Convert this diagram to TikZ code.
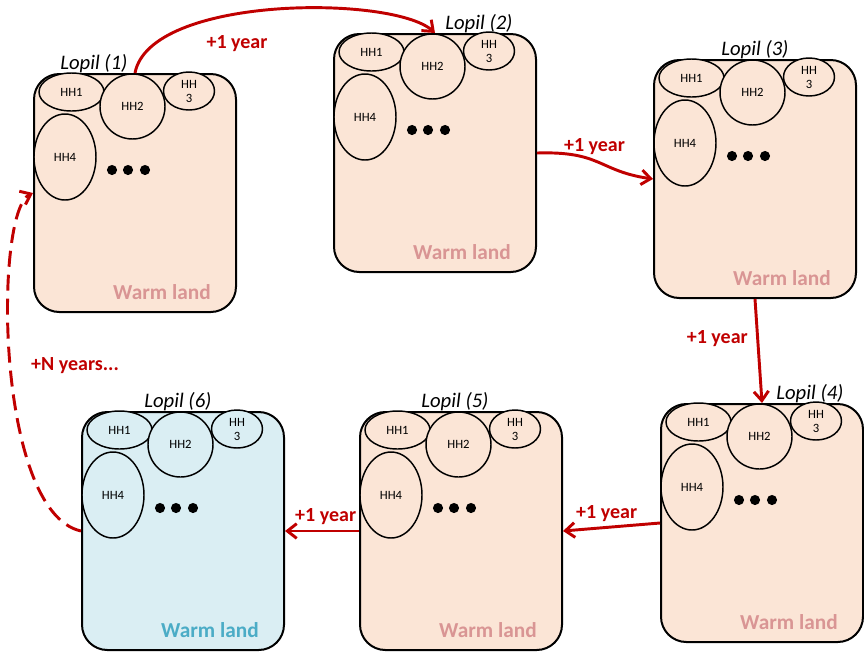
\documentclass[tikz,border=0pt]{standalone}
\usepackage{fontspec}
\setmainfont{Carlito}
\usepackage{xcolor}
\definecolor{cLand}{HTML}{FBE5D6}
\definecolor{cLandText}{HTML}{D99594}
\definecolor{cCold}{HTML}{DAEEF3}
\definecolor{cColdText}{HTML}{4BACC6}
\definecolor{cArrow}{HTML}{C00000}
\usepackage{tikz}
\usetikzlibrary{positioning,arrows.meta,shapes.geometric,calc}
\tikzset{
  lopil-box/.style={draw=black,line width=1.5pt,rounded corners=19pt,
    anchor=north west,inner sep=0pt,minimum width=151.5pt,minimum height=178.5pt},
  lopil-name/.style={anchor=base,inner sep=0pt,font=\fontsize{15.5}{17}\selectfont\itshape},
  land-text/.style={anchor=base,inner sep=0pt,font=\fontsize{16}{18}\selectfont\bfseries},
  % households: ellipses of different sizes inside each lopil
  hh/.style={draw=black,line width=1.1pt,ellipse,inner sep=0pt,align=center,
    font=\fontsize{9.5}{10.5}\selectfont},
  hh-one/.style={hh,minimum width=48.75pt,minimum height=28.5pt},
  hh-two/.style={hh,minimum width=48.75pt,minimum height=48.75pt},
  hh-three/.style={hh,minimum width=38.25pt,minimum height=28.5pt},
  hh-four/.style={hh,minimum width=46.5pt,minimum height=64.5pt},
  year-label/.style={text=cArrow,font=\fontsize{15}{17}\selectfont\bfseries},
  arrow/.style={-{Straight Barb[length=7pt,width=11pt]},line width=2.2pt,draw=cArrow},
  arrow-dashed/.style={arrow,dash pattern=on 12pt off 6pt},
}
\begin{document}
\begin{tikzpicture}[x=0.75pt,y=-0.75pt]
  \useasboundingbox (0,0) rectangle (864,651);
  \foreach \i/\bx/\by/\lx/\fc/\tc in {1/33/73/61/cLand/cLandText,
      2/333/33/146/cLand/cLandText, 3/653/59/102/cLand/cLandText,
      4/660/403/150/cLand/cLandText, 5/359/411/96/cLand/cLandText,
      6/81/411/97/cCold/cColdText} {
    \node[lopil-box,fill=\fc] (lp\i) at (\bx,\by) {};
    \node[hh-one,fill=\fc] (hha\i) at ([shift={(38.5,19)}]lp\i.north west) {HH1};
    \node[hh-two,fill=\fc] (hhb\i) at ([shift={(99.5,33.5)}]lp\i.north west) {HH2};
    \node[hh-three,fill=\fc] (hhc\i) at ([shift={(156,18)}]lp\i.north west) {HH\\3};
    \node[hh-four,fill=\fc] (hhd\i) at ([shift={(32,84)}]lp\i.north west) {HH4};
    \foreach \dx in {79,95,112}
      \fill ([shift={(\dx,97)}]lp\i.north west) circle (3.8pt);
    \node[lopil-name] (name\i) at ([shift={(\lx,-4)}]lp\i.north west) {Lopil (\i)};
    \node[land-text,text=\tc] (land\i) at ([shift={(129,226)}]lp\i.north west) {Warm land};
  }
  \draw[arrow] (lp1.north) .. controls +(15,-78) and +(-42,-38) .. (lp2.north);
  \node[year-label] (y12) at (237,44) {+1 year};
  \draw[arrow] (lp2.east) .. controls +(65,-2) and +(-55,-8) .. node[year-label,above,pos=0.45]{+1 year} (lp3.west);
  \draw[arrow] (lp3.south) -- node[year-label,left=3pt,pos=0.38]{+1 year} (lp4.north);
  \draw[arrow] (lp4.west) -- node[year-label,above,pos=0.55]{+1 year} (lp5.east);
  \draw[arrow] (lp5.west) -- node[year-label,above,pos=0.45]{+1 year} (lp6.east);
  \draw[arrow-dashed] (lp6.west) .. controls +(-86,-19) and +(-39,18) .. (lp1.west);
  \node[year-label] (y61) at (75,366) {+N years...};
\end{tikzpicture}
\end{document}
